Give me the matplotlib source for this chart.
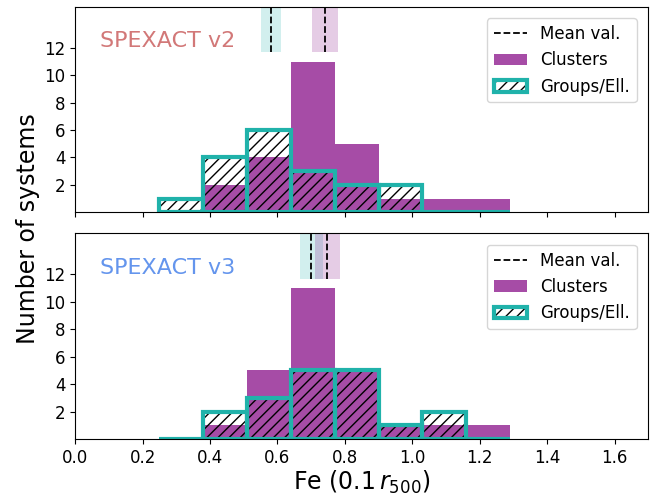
#!/usr/bin/env python3

import numpy as np
import matplotlib
matplotlib.use("Agg")
import matplotlib.pyplot as plt
from matplotlib.patches import Patch
from matplotlib.lines import Line2D

# bin edges of the Fe histograms
bin_edges = [0.25, 0.38, 0.51, 0.64, 0.77, 0.90, 1.03, 1.16, 1.29]

# counts per bin, SPEXACT v2
clusters_v2 = [0, 2, 4, 11, 5, 1, 1, 1]
groups_v2 = [1, 4, 6, 3, 2, 2, 0, 0]
# counts per bin, SPEXACT v3
clusters_v3 = [0, 1, 5, 11, 5, 1, 1, 1]
groups_v3 = [0, 2, 3, 5, 5, 1, 2, 0]

# mean values and their errors
mean_v2 = {"clusters": (0.74, 0.038), "groups": (0.58, 0.03)}
mean_v3 = {"clusters": (0.748, 0.037), "groups": (0.70, 0.034)}

panels = [
    ("SPEXACT v2", "#d27878", clusters_v2, groups_v2, mean_v2),
    ("SPEXACT v3", "cornflowerblue", clusters_v3, groups_v3, mean_v3),
]

cl_col = "purple"
gr_col = "lightseagreen"

my_dpi = 100
fig = plt.figure(figsize=(659 / my_dpi, 496 / my_dpi), dpi=my_dpi)
ax1 = fig.add_axes([0.114, 0.572, 0.870, 0.4145])
ax2 = fig.add_axes([0.114, 0.115, 0.870, 0.4145], sharex=ax1)

edges = np.array(bin_edges)
left = edges[:-1]
width = np.diff(edges)

for ax, (label, lcol, cl, gr, means) in zip([ax1, ax2], panels):
    ax.bar(left, cl, width=width, align="edge", color=cl_col, alpha=0.7, lw=0)
    ax.bar(left, gr, width=width, align="edge", fill=False, hatch="///",
           edgecolor="k", lw=0)
    ax.bar(left, gr, width=width, align="edge", fill=False,
           edgecolor=gr_col, lw=3)

    for key, col in [("groups", gr_col), ("clusters", cl_col)]:
        m, e = means[key]
        ax.axvspan(m - e, m + e, ymin=0.78, ymax=1, color=col, alpha=0.2, lw=0)
        ax.axvline(m, ymin=0.78, ymax=1, color="k", ls="--", lw=1.3)

    ax.text(0.075, 12.5, label, color=lcol, fontsize=16, va="center")

    ax.set_xlim(0, 1.7)
    ax.set_ylim(0, 15)
    ax.set_yticks([2, 4, 6, 8, 10, 12])
    ax.tick_params(labelsize=12)

    hatch_h = (Patch(facecolor="white", edgecolor="k", hatch="///", lw=0),
               Patch(fill=False, edgecolor=gr_col, lw=3))
    handles = [
        Line2D([], [], color="k", ls="--", lw=1.3),
        Patch(facecolor=cl_col, alpha=0.7, lw=0),
        hatch_h,
    ]
    ax.legend(handles, ["Mean val.", "Clusters", "Groups/Ell."],
              loc="upper right", fontsize=12, borderaxespad=0.7)

plt.setp(ax1.get_xticklabels(), visible=False)
ax2.set_xlabel(r"Fe $(0.1\,r_{500})$", fontsize=17, labelpad=1.5)
fig.text(0.042, 0.54, "Number of systems", rotation=90, fontsize=17,
         va="center", ha="center")

fig.savefig("out.png", dpi=my_dpi)
